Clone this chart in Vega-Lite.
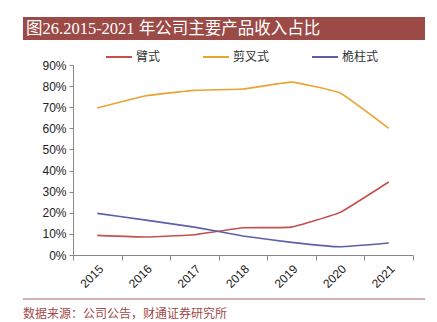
{
  "$schema": "https://vega.github.io/schema/vega-lite/v6.json",
  "padding": {"top": 17, "left": 22, "right": 13, "bottom": 0},
  "background": "white",
  "spacing": 3,
  "resolve": {"scale": {"color": "independent"}, "legend": {"color": "independent"}},
  "config": {"view": {"stroke": null}, "font": "Liberation Sans"},
  "vconcat": [
    {
      "width": 402,
      "height": 23,
      "data": {"values": [{"t": "图26.2015-2021 年公司主要产品收入占比"}]},
      "layer": [
        {
          "mark": {"type": "rect", "color": "#9C4A46"},
          "encoding": {
            "x": {"datum": 0, "type": "quantitative", "scale": {"domain": [0, 1]}, "axis": null},
            "x2": {"datum": 1},
            "y": {"datum": 0, "type": "quantitative", "scale": {"domain": [0, 1]}, "axis": null},
            "y2": {"datum": 1}
          }
        },
        {
          "mark": {"type": "text", "align": "left", "baseline": "middle", "color": "white", "font": "Liberation Serif, Noto Sans CJK SC", "fontSize": 16.5, "dx": 3},
          "encoding": {
            "text": {"field": "t"},
            "x": {"datum": 0, "type": "quantitative"},
            "y": {"datum": 0.5, "type": "quantitative"}
          }
        }
      ]
    },
    {
      "width": 402,
      "height": 190,
      "data": {"values": [
        {"year": "2015", "type": "臂式", "value": 0.093},
        {"year": "2016", "type": "臂式", "value": 0.085},
        {"year": "2017", "type": "臂式", "value": 0.096},
        {"year": "2018", "type": "臂式", "value": 0.129},
        {"year": "2019", "type": "臂式", "value": 0.132},
        {"year": "2020", "type": "臂式", "value": 0.202},
        {"year": "2021", "type": "臂式", "value": 0.346},
        {"year": "2015", "type": "剪叉式", "value": 0.696},
        {"year": "2016", "type": "剪叉式", "value": 0.754},
        {"year": "2017", "type": "剪叉式", "value": 0.780},
        {"year": "2018", "type": "剪叉式", "value": 0.786},
        {"year": "2019", "type": "剪叉式", "value": 0.819},
        {"year": "2020", "type": "剪叉式", "value": 0.767},
        {"year": "2021", "type": "剪叉式", "value": 0.600},
        {"year": "2015", "type": "桅柱式", "value": 0.197},
        {"year": "2016", "type": "桅柱式", "value": 0.165},
        {"year": "2017", "type": "桅柱式", "value": 0.132},
        {"year": "2018", "type": "桅柱式", "value": 0.090},
        {"year": "2019", "type": "桅柱式", "value": 0.060},
        {"year": "2020", "type": "桅柱式", "value": 0.039},
        {"year": "2021", "type": "桅柱式", "value": 0.057}
      ]},
      "mark": {"type": "line", "interpolate": "cardinal", "tension": 0.7, "strokeWidth": 1.6},
      "encoding": {
        "x": {
          "field": "year", "type": "ordinal",
          "scale": {"type": "band", "paddingInner": 0, "paddingOuter": 0, "range": [50, 390]},
          "axis": {"title": null, "labelAngle": -45, "tickBand": "extent", "domainColor": "#888888", "tickColor": "#888888", "tickSize": 5, "labelFontSize": 12, "labelColor": "#222222", "labelPadding": 3}
        },
        "y": {
          "field": "value", "type": "quantitative",
          "scale": {"domain": [0, 0.9], "nice": false},
          "axis": {"title": null, "offset": -50, "format": ".0%", "values": [0, 0.1, 0.2, 0.3, 0.4, 0.5, 0.6, 0.7, 0.8, 0.9], "grid": false, "domainColor": "#888888", "tickColor": "#888888", "tickSize": 4, "labelFontSize": 12, "labelColor": "#222222", "labelPadding": 3}
        },
        "color": {
          "field": "type", "type": "nominal",
          "scale": {"domain": ["臂式", "剪叉式", "桅柱式"], "range": ["#C4504E", "#E9A431", "#5D5FA8"]},
          "legend": {"title": null, "orient": "none", "legendX": 82, "legendY": -22, "direction": "horizontal", "symbolType": "stroke", "symbolSize": 676, "symbolStrokeWidth": 2, "labelFontSize": 12, "labelFont": "Noto Sans CJK SC", "labelColor": "#333333", "labelOffset": 3, "columnPadding": 38, "padding": 0}
        }
      }
    },
    {
      "width": 402,
      "height": 30,
      "data": {"values": [{"t": "数据来源：公司公告，财通证券研究所"}]},
      "layer": [
        {
          "mark": {"type": "rule", "color": "#C49A98", "strokeWidth": 1.5},
          "encoding": {
            "y": {"datum": 0.8, "type": "quantitative", "scale": {"domain": [0, 1]}, "axis": null}
          }
        },
        {
          "mark": {"type": "text", "align": "left", "baseline": "middle", "color": "#A04A48", "font": "Noto Sans CJK SC", "fontSize": 12},
          "encoding": {
            "text": {"field": "t"},
            "x": {"datum": 0, "type": "quantitative", "scale": {"domain": [0, 1]}, "axis": null},
            "y": {"datum": 0.3, "type": "quantitative"}
          }
        }
      ]
    }
  ]
}
